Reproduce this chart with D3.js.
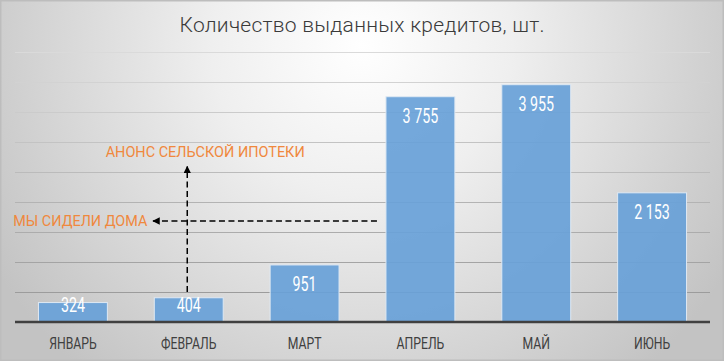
<!DOCTYPE html>
<html><head><meta charset="utf-8">
<script src="https://cdn.jsdelivr.net/npm/d3@7"></script>
<style>html,body{margin:0;padding:0;background:#fff;}svg{display:block;}</style>
</head><body>
<script>
const months = ["ЯНВАРЬ","ФЕВРАЛЬ","МАРТ","АПРЕЛЬ","МАЙ","ИЮНЬ"];
const credits = [324, 404, 951, 3755, 3955, 2153];
const valueLabels = ["324","404","951","3 755","3 955","2 153"];
const yTicks = [500,1000,1500,2000,2500,3000,3500,4000,4500];
const titleText = "Количество выданных кредитов, шт.";
const noteMortgage = "АНОНС СЕЛЬСКОЙ ИПОТЕКИ";
const noteHome = "МЫ СИДЕЛИ ДОМА";

const W = 724, H = 361;
const svg = d3.select("body").append("svg").attr("width", W).attr("height", H);
const defs = svg.append("defs");
const rg = defs.append("radialGradient").attr("id","bg").attr("gradientUnits","userSpaceOnUse")
  .attr("cx",362).attr("cy",45).attr("r",430);
rg.append("stop").attr("offset","0").attr("stop-color","#ffffff");
rg.append("stop").attr("offset","0.35").attr("stop-color","#efefef");
rg.append("stop").attr("offset","1").attr("stop-color","#c3c3c3");
const mk = defs.append("marker").attr("id","arr").attr("viewBox","0 0 10 10")
  .attr("refX",9).attr("refY",5).attr("markerWidth",5).attr("markerHeight",5)
  .attr("markerUnits","strokeWidth").attr("orient","auto");
mk.append("path").attr("d","M0,0L10,5L0,10Z").attr("fill","#000");

svg.append("rect").attr("x",0.75).attr("y",0.75).attr("width",W-1.5).attr("height",H-1.5)
  .attr("fill","url(#bg)").attr("stroke","#bdbdbd").attr("stroke-width",1.5);

const x = d3.scaleBand().domain(months).range([15, 710]).paddingInner(0.405).paddingOuter(0.2025);
const y = d3.scaleLinear().domain([0, 4500]).range([322, 52]);
const gridColor = d3.scaleLinear().domain([52, 292]).range(["#dadada", "#9c9c9c"]);

// gridlines
svg.append("g").selectAll("line").data(yTicks).join("line")
  .attr("x1", 15).attr("x2", 710)
  .attr("y1", d => Math.round(y(d)) + 0.5).attr("y2", d => Math.round(y(d)) + 0.5)
  .attr("stroke", d => gridColor(y(d))).attr("stroke-width", 1);

// bars
svg.append("g").selectAll("rect").data(credits).join("rect")
  .attr("x", (d,i) => x(months[i]))
  .attr("y", d => y(d))
  .attr("width", x.bandwidth())
  .attr("height", d => y(0) - y(d))
  .attr("fill", "#68a1d8").attr("fill-opacity", 0.92)
  .attr("stroke", "#dfe9f3").attr("stroke-width", 1);

// baseline
svg.append("line").attr("x1",15).attr("x2",710).attr("y1",y(0)).attr("y2",y(0))
  .attr("stroke","#404040").attr("stroke-width",2.5);

// value labels
svg.append("g").selectAll("text").data(credits).join("text")
  .attr("transform", (d,i) => `translate(${x(months[i]) + x.bandwidth()/2},${Math.min(y(d) + 26, y(0) - 10.5)}) scale(0.68,1)`)
  .attr("text-anchor","middle")
  .attr("font-family","Roboto, 'DejaVu Sans', sans-serif").attr("font-size",21)
  .attr("fill","#ffffff")
  .text((d,i) => valueLabels[i]);

// axis labels
const xAxis = d3.axisBottom(x).tickSize(0).tickPadding(0);
const gx = svg.append("g").attr("transform",`translate(0,${y(0)})`).call(xAxis);
gx.select(".domain").remove();
gx.selectAll("text")
  .attr("y", 0).attr("dy", 0)
  .attr("transform","translate(0,27.3) scale(0.72,1)")
  .attr("font-family","Roboto, 'DejaVu Sans', sans-serif").attr("font-size",17)
  .attr("fill","#404040");

// title
svg.append("text").attr("x", W/2).attr("y", 32).attr("text-anchor","middle")
  .attr("font-family","Roboto, 'DejaVu Sans', sans-serif").attr("font-weight",300)
  .attr("font-size",21).attr("fill","#3a3a3a")
  .attr("textLength",365).attr("lengthAdjust","spacing")
  .attr("transform", `translate(${W/2},0) scale(1,1) translate(${-W/2},0)`)
  .text(titleText);

// annotations
const orange = "#f0883d";
svg.append("text").attr("x",105.7).attr("y",157.3)
  .attr("font-family","Roboto, 'DejaVu Sans', sans-serif").attr("font-size",15.5)
  .attr("fill",orange).attr("textLength",199).attr("lengthAdjust","spacingAndGlyphs")
  .text(noteMortgage);
svg.append("text").attr("x",13.3).attr("y",226)
  .attr("font-family","Roboto, 'DejaVu Sans', sans-serif").attr("font-size",15.5)
  .attr("fill",orange).attr("textLength",134).attr("lengthAdjust","spacingAndGlyphs")
  .text(noteHome);

const arrX = x("ФЕВРАЛЬ") + x.bandwidth()/2 - 1.5;
svg.append("line").attr("x1",arrX).attr("y1",y(500)).attr("x2",arrX).attr("y2",166.5)
  .attr("stroke","#000").attr("stroke-width",1.5).attr("stroke-dasharray","6,3.5")
  .attr("marker-end","url(#arr)");
svg.append("line").attr("x1",x("АПРЕЛЬ") - 9).attr("y1",221).attr("x2",153).attr("y2",221)
  .attr("stroke","#000").attr("stroke-width",1.5).attr("stroke-dasharray","6,3.5")
  .attr("marker-end","url(#arr)");
</script>
</body></html>
